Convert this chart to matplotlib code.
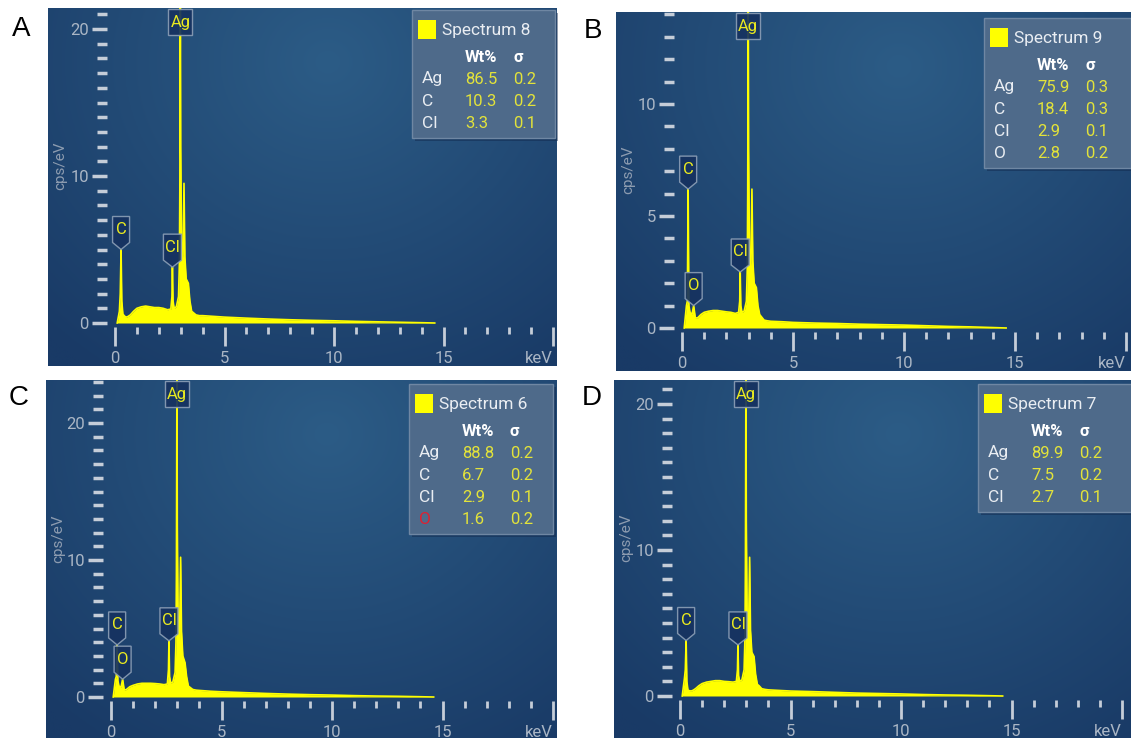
import numpy as np
import matplotlib.pyplot as plt
from matplotlib import patches, transforms
from matplotlib.ticker import MultipleLocator, FixedLocator

plt.rcParams['font.family'] = ['Liberation Sans Narrow', 'Roboto', 'DejaVu Sans']

W, H = 1131, 738

# energy grid (keV) and counts (cps/eV)
energy = [0.10, 0.20, 0.24, 0.277, 0.31, 0.36, 0.45, 0.525, 0.60, 0.70, 0.85, 1.0,
          1.2, 1.4, 1.6, 1.8, 2.0, 2.2, 2.4, 2.55, 2.60, 2.622, 2.65, 2.70, 2.80,
          2.90, 2.94, 2.96, 2.984, 3.00, 3.04, 3.10, 3.15, 3.19, 3.25, 3.35, 3.42,
          3.50, 3.58, 3.70, 3.85, 4.0, 4.5, 5.0, 6.0, 7.0, 8.0, 9.0, 10.0, 11.0,
          12.0, 13.0, 14.0, 14.6]

counts_a = [0.0, 0.8, 2.0, 5.0, 1.5, 0.6, 0.45, 0.4, 0.45, 0.55, 0.8, 1.0,
            1.1, 1.15, 1.1, 1.05, 1.05, 1.0, 0.9, 0.95, 1.8, 3.8, 1.5, 1.0, 1.1,
            1.8, 4.0, 9.0, 23, 12, 5.0, 4.0, 9.5, 4.5, 3.0, 2.7, 1.5,
            0.8, 0.7, 0.55, 0.5, 0.5, 0.45, 0.4, 0.33, 0.27, 0.22, 0.18, 0.15, 0.11,
            0.08, 0.05, 0.02, 0.0]
counts_b = [0.0, 1.0, 1.2, 6.2, 1.0, 0.7, 0.6, 1.0, 0.45, 0.45, 0.6, 0.7,
            0.75, 0.78, 0.78, 0.75, 0.72, 0.7, 0.65, 0.7, 1.2, 2.5, 1.0, 0.7, 0.75,
            1.2, 2.6, 6.0, 15, 8.0, 3.2, 2.6, 6.2, 3.0, 2.0, 1.8, 1.0,
            0.6, 0.5, 0.35, 0.32, 0.3, 0.28, 0.25, 0.22, 0.2, 0.17, 0.15, 0.13, 0.1,
            0.07, 0.05, 0.02, 0.0]
counts_c = [0.0, 1.3, 1.5, 3.8, 1.2, 0.8, 0.7, 1.3, 0.5, 0.55, 0.75, 0.85,
            0.95, 1.0, 1.0, 1.0, 0.98, 0.95, 0.9, 0.95, 2.0, 4.1, 1.5, 1.0, 1.1,
            1.8, 4.0, 9.0, 24, 12.5, 5.0, 4.0, 10.2, 4.8, 3.0, 2.5, 1.5,
            0.8, 0.7, 0.55, 0.5, 0.48, 0.42, 0.38, 0.32, 0.26, 0.21, 0.17, 0.14, 0.1,
            0.07, 0.05, 0.02, 0.0]
counts_d = [0.0, 1.2, 1.8, 3.8, 1.0, 0.4, 0.35, 0.35, 0.4, 0.5, 0.7, 0.85,
            0.95, 1.0, 1.05, 1.05, 1.0, 0.98, 0.95, 1.0, 1.8, 3.5, 1.4, 1.0, 1.1,
            1.8, 4.0, 9.0, 23, 12, 5.0, 4.0, 9.5, 4.5, 3.0, 2.7, 1.5,
            0.8, 0.7, 0.5, 0.45, 0.42, 0.38, 0.34, 0.3, 0.25, 0.2, 0.17, 0.14, 0.1,
            0.07, 0.05, 0.02, 0.0]

# peak markers: (element, line energy)
peaks_a = [('C', 0.277), ('Cl', 2.622)]
peaks_b = [('C', 0.277), ('O', 0.525), ('Cl', 2.622)]
peaks_c = [('C', 0.277), ('O', 0.525), ('Cl', 2.622)]
peaks_d = [('C', 0.277), ('Cl', 2.622)]

# quantification tables
spectrum_names = ['Spectrum 8', 'Spectrum 9', 'Spectrum 6', 'Spectrum 7']
elem_a, wt_a, sig_a = ['Ag', 'C', 'Cl'], ['86.5', '10.3', '3.3'], ['0.2', '0.2', '0.1']
elem_b, wt_b, sig_b = ['Ag', 'C', 'Cl', 'O'], ['75.9', '18.4', '2.9', '2.8'], ['0.3', '0.3', '0.1', '0.2']
elem_c, wt_c, sig_c = ['Ag', 'C', 'Cl', 'O'], ['88.8', '6.7', '2.9', '1.6'], ['0.2', '0.2', '0.1', '0.2']
elem_d, wt_d, sig_d = ['Ag', 'C', 'Cl'], ['89.9', '7.5', '2.7'], ['0.2', '0.2', '0.1']

panel_letters = ['A', 'B', 'C', 'D']

yellow = '#ffff00'
tick_c = '#c5cdd8'
ticklab_c = '#aab6c5'

# layout in pixels (top-left origin)
layout = [
    dict(bg=(48, 8, 557, 366), zx=115, zy=323, kx=21.9, ky=14.7, ymaj=10,
         leg=(412, 10, 143), letter=(21, 29)),
    dict(bg=(616, 12, 1131, 371), zx=682, zy=328, kx=22.2, ky=22.4, ymaj=5,
         leg=(984, 18, 147), letter=(593, 31)),
    dict(bg=(46, 380, 557, 738), zx=111, zy=697, kx=22.1, ky=13.7, ymaj=10,
         leg=(409, 384, 144), letter=(19, 398)),
    dict(bg=(614, 380, 1131, 738), zx=680, zy=696, kx=22.1, ky=14.6, ymaj=10,
         leg=(978, 384, 155), letter=(592, 398)),
]
series = [counts_a, counts_b, counts_c, counts_d]
peaks = [peaks_a, peaks_b, peaks_c, peaks_d]
tables = [(elem_a, wt_a, sig_a), (elem_b, wt_b, sig_b),
          (elem_c, wt_c, sig_c), (elem_d, wt_d, sig_d)]

fig = plt.figure(figsize=(W / 100, H / 100), dpi=100)
fig.patch.set_facecolor('white')
pix = transforms.Affine2D().scale(1, -1).translate(0, H)
ident = transforms.IdentityTransform()


def rect(l, t, r, b):
    return [l / W, 1 - b / H, (r - l) / W, (b - t) / H]


# background gradient of the instrument screen
light = np.array([44, 92, 134]) / 255
dark = np.array([25, 58, 102]) / 255
gu, gv = np.meshgrid(np.linspace(0, 1, 300), np.linspace(0, 1, 300))
dist = np.clip(np.hypot((gu - 0.55) / 0.8, (gv - 0.15) / 1.05), 0, 1)
grad = light * (1 - dist[..., None]) + dark * dist[..., None]


def peak_label(ax, name, e, tip, w, top=False):
    px, py = ax.transData.transform((e, tip))
    h, p = 26, 7
    if top:
        ytop = ax.bbox.y1 - 1
        verts = [(px - w / 2, ytop), (px + w / 2, ytop),
                 (px + w / 2, ytop - h), (px - w / 2, ytop - h)]
        yc = ytop - h / 2
    else:
        verts = [(px - w / 2, py + p), (px, py), (px + w / 2, py + p),
                 (px + w / 2, py + p + h), (px - w / 2, py + p + h)]
        yc = py + p + h / 2
    fig.add_artist(patches.Polygon(verts, closed=True, transform=ident,
                                   fc='#163260', ec='#8a9db5', lw=1, alpha=0.92))
    fig.text(px, yc, name, transform=ident, ha='center', va='center',
             color='#eaea20', fontsize=12)


for i, lay in enumerate(layout):
    l, t, r, b = lay['bg']
    zx, zy, kx, ky = lay['zx'], lay['zy'], lay['kx'], lay['ky']

    bg_ax = fig.add_axes(rect(l, t, r, b))
    bg_ax.imshow(grad, extent=[0, 1, 0, 1], aspect='auto')
    bg_ax.axis('off')

    ax = fig.add_axes(rect(zx - 8, t, r, zy + 4))
    ax.patch.set_alpha(0)
    ax.set_xlim(-8 / kx, (r - zx) / kx)
    ax.set_ylim(-4 / ky, (zy - t) / ky)
    for s in ax.spines.values():
        s.set_visible(False)

    ax.fill_between(energy, series[i], 0, color=yellow, lw=0)
    ax.plot(energy, series[i], color=yellow, lw=1.2)

    ax.xaxis.set_major_locator(FixedLocator([0, 5, 10, 15, 20]))
    ax.set_xticklabels(['0', '5', '10', '15', 'keV'])
    ax.get_xticklabels()[-1].set_ha('right')
    ax.xaxis.set_minor_locator(MultipleLocator(1))
    ax.yaxis.set_major_locator(MultipleLocator(lay['ymaj']))
    ax.yaxis.set_minor_locator(MultipleLocator(1))
    ax.tick_params(axis='x', which='major', direction='out', length=14, width=2,
                   color=tick_c, labelcolor=ticklab_c, labelsize=12, pad=3)
    ax.tick_params(axis='x', which='minor', direction='out', length=5, width=2,
                   color=tick_c)
    ax.tick_params(axis='y', which='major', direction='out', length=11, width=2.5,
                   color=tick_c, labelcolor=ticklab_c, labelsize=12, pad=2)
    ax.tick_params(axis='y', which='minor', direction='out', length=7, width=2.5,
                   color=tick_c)

    fig.text(l + 12, (t + zy) / 2, 'cps/eV', transform=pix, rotation=90,
             ha='center', va='center', color='#8d9cb0', fontsize=11)

    for name, e in peaks[i]:
        tip = series[i][energy.index(e)]
        peak_label(ax, name, e, tip, 18 if name == 'Cl' else 17)
    peak_label(ax, 'Ag', 2.984, 0, 24, top=True)

    # quantification box
    lx, ly, lw_ = lay['leg']
    elems, wts, sigs = tables[i]
    lh = 62 + 22 * len(elems)
    fig.add_artist(patches.Rectangle((lx + 3, ly + 3), lw_, lh, transform=pix,
                                     fc='#10264a', ec='none', alpha=0.45))
    fig.add_artist(patches.Rectangle((lx, ly), lw_, lh, transform=pix,
                                     fc='#4e6a8a', ec='#6f87a3', lw=1))
    fig.add_artist(patches.Rectangle((lx + 6, ly + 10), 18, 19, transform=pix,
                                     fc=yellow, ec='none'))
    fig.text(lx + 30, ly + 21, spectrum_names[i], transform=pix, ha='left',
             va='center', color='#e9edf2', fontsize=12.5)
    fig.text(lx + 53, ly + 47, 'Wt%', transform=pix, ha='left', va='center',
             color='white', fontsize=12, fontweight='bold')
    fig.text(lx + 101, ly + 47, 'σ', transform=pix, ha='left', va='center',
             color='white', fontsize=12, fontweight='bold')
    for j, (el, wv, sv) in enumerate(zip(elems, wts, sigs)):
        yy = ly + 69 + 22 * j
        el_color = '#e02030' if (i == 2 and el == 'O') else '#e9edf2'
        fig.text(lx + 10, yy, el, transform=pix, ha='left', va='center',
                 color=el_color, fontsize=12.5)
        fig.text(lx + 53, yy, wv, transform=pix, ha='left', va='center',
                 color='#e3e33a', fontsize=12)
        fig.text(lx + 101, yy, sv, transform=pix, ha='left', va='center',
                 color='#e3e33a', fontsize=12)

    fig.text(lay['letter'][0], lay['letter'][1], panel_letters[i], transform=pix,
             ha='center', va='center', color='black', fontsize=20,
             family=['Liberation Sans', 'DejaVu Sans'])

fig.savefig('out.png', dpi=100)
